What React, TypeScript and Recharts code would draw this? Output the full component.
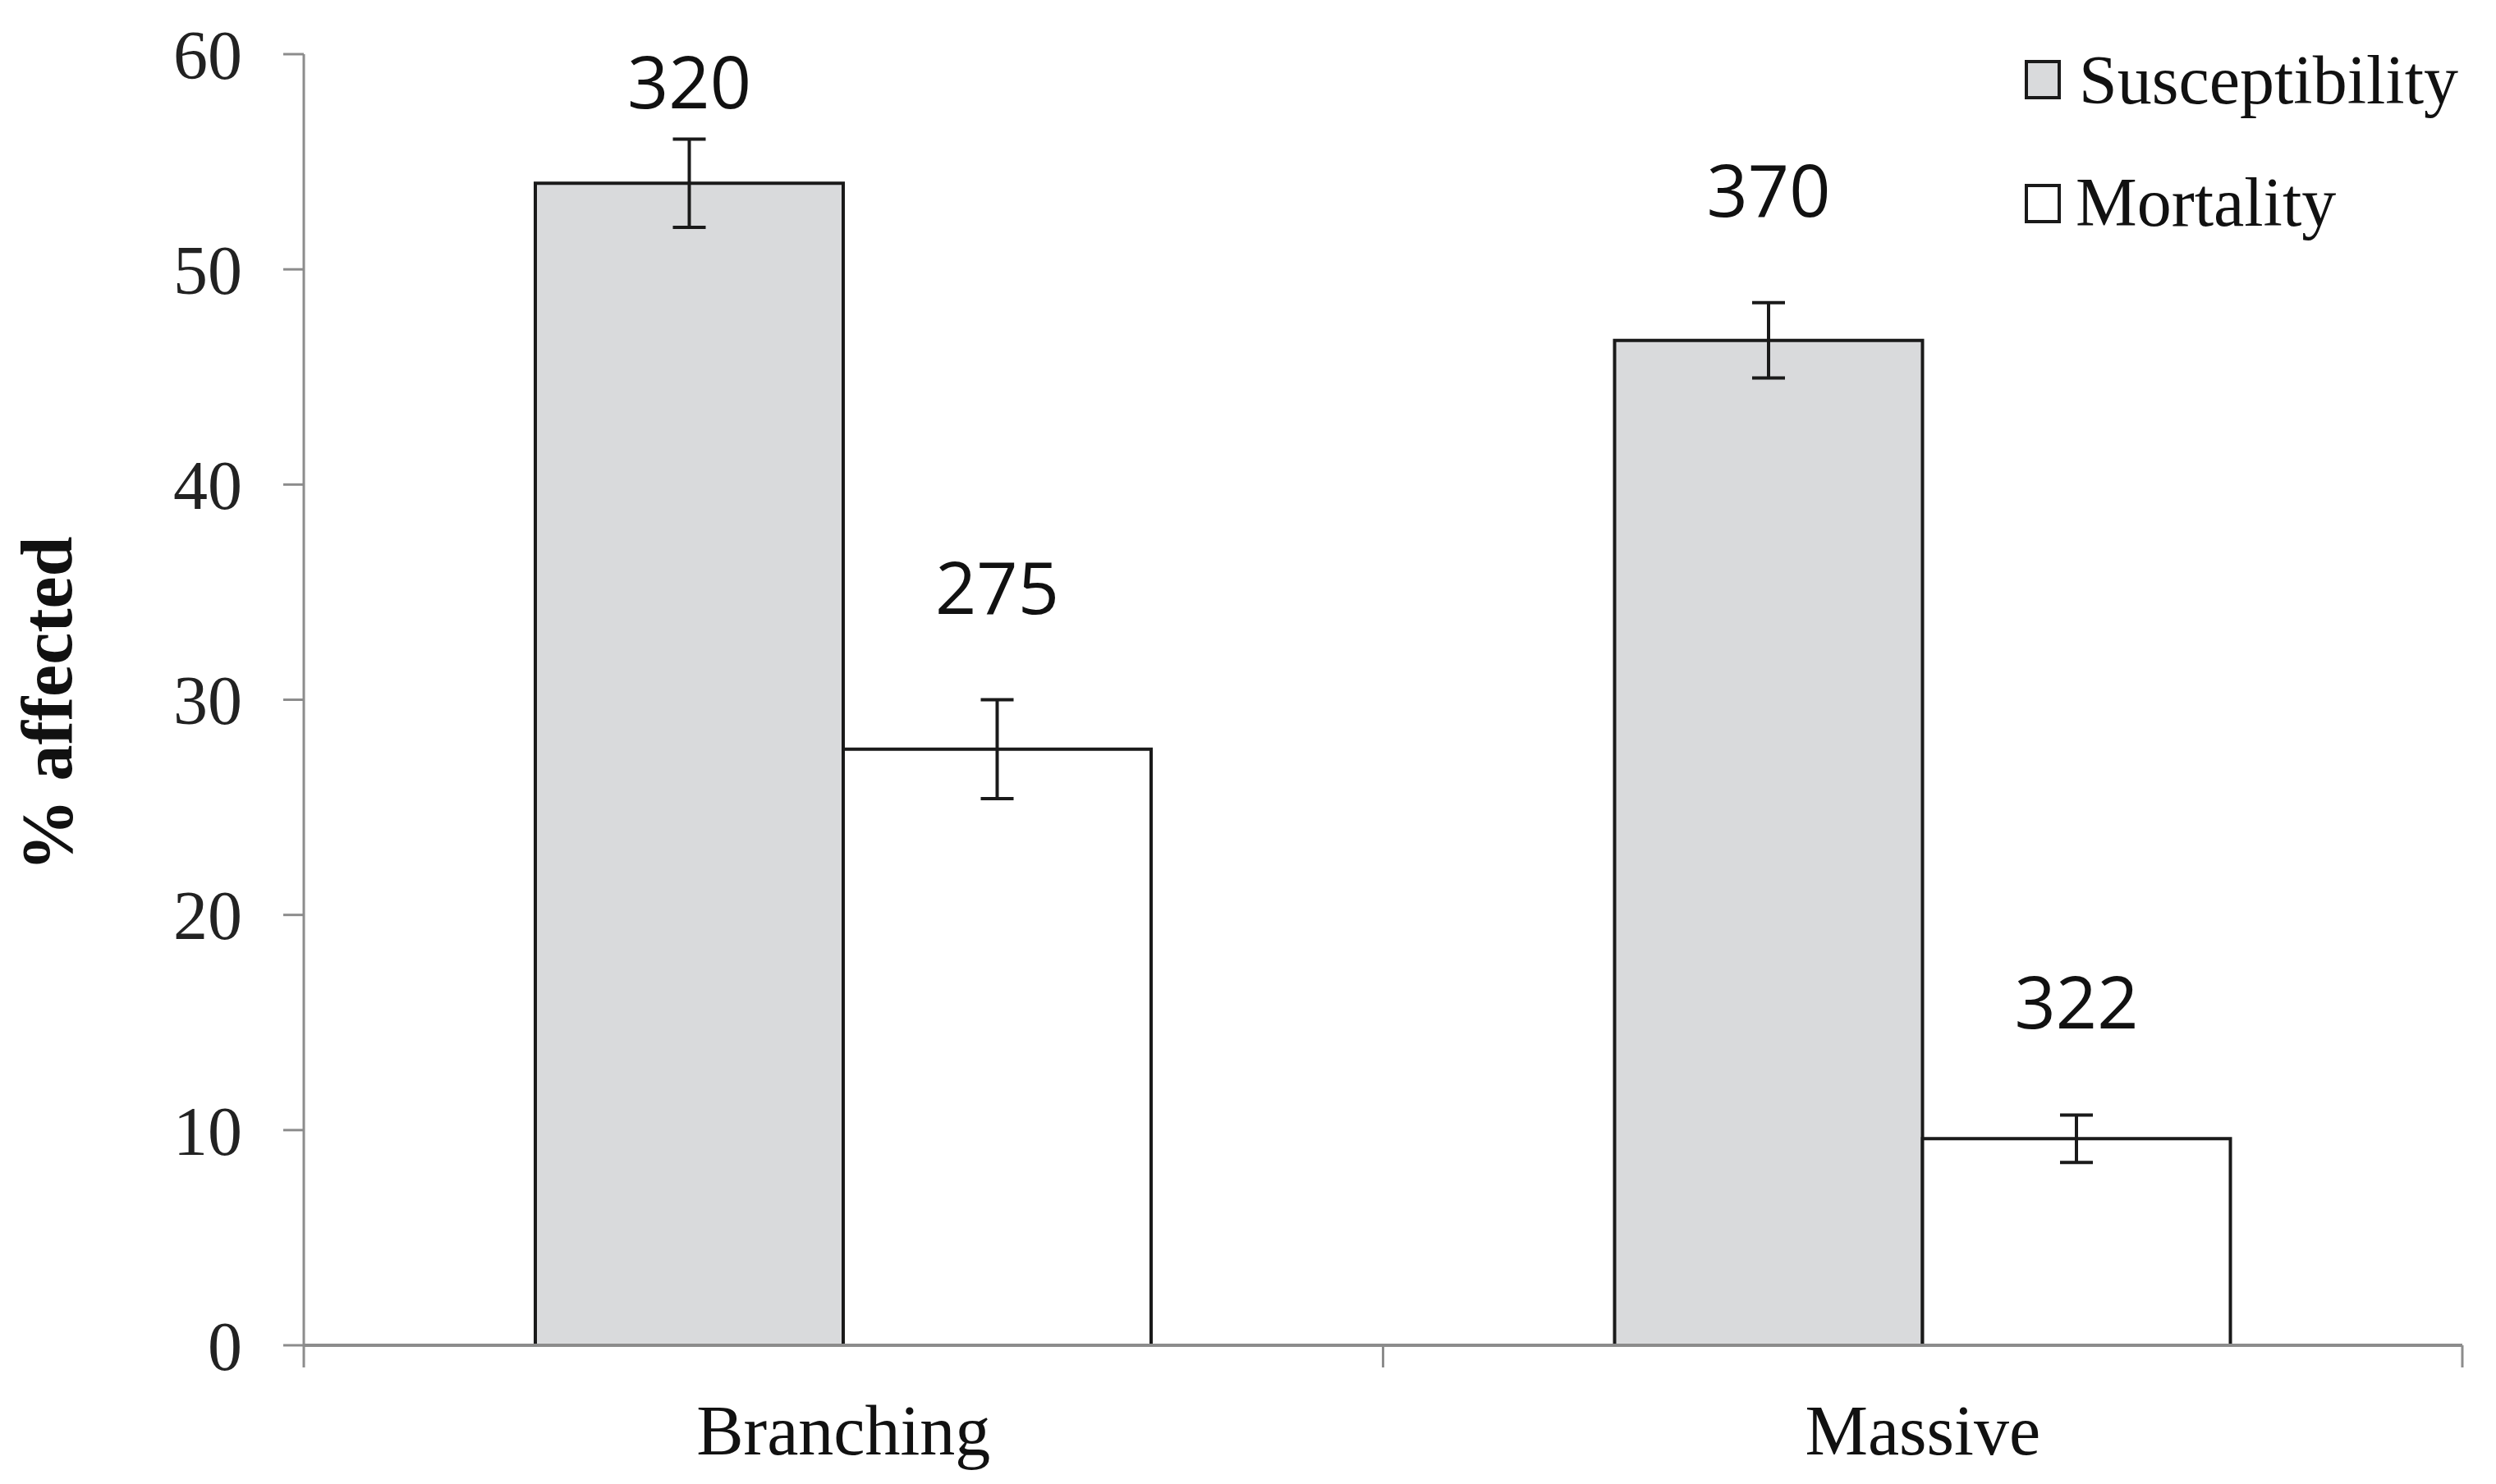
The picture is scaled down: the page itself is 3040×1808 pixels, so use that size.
import React from 'react';
import { BarChart, Bar, XAxis, YAxis, ErrorBar, LabelList, Legend } from 'recharts';

const categories = ['Branching', 'Massive'];
const susceptibility = [54.0, 46.7];
const susceptibilityErr = [2.05, 1.75];
const mortality = [27.7, 9.6];
const mortalityErr = [2.3, 1.1];
const susceptibilityN = [320, 370];
const mortalityN = [275, 322];
const yTicks = [0, 10, 20, 30, 40, 50, 60];
const seriesNames = ['Susceptibility', 'Mortality'];

const data = categories.map((c, i) => ({
  category: c,
  susc: susceptibility[i],
  suscErr: susceptibilityErr[i],
  suscN: susceptibilityN[i],
  mort: mortality[i],
  mortErr: mortalityErr[i],
  mortN: mortalityN[i],
}));

const W = 3032;
const H = 1800;
const M = { top: 58, right: 41, left: 0, bottom: 0 };
const Y_AXIS_W = 362;
const X_AXIS_H = 169;
const BAND = (W - Y_AXIS_W - M.right - M.left) / categories.length;
const LABEL_GAP = 105;
const LABEL_MIN_BASELINE = 124;

const SERIF = '"Liberation Serif", "Times New Roman", serif';
const SANS = '"Open Sans", "DejaVu Sans", sans-serif';
const AXIS_GRAY = '#8c8c8c';
const SUSC_FILL = '#d9dadc';
const INK = '#1a1a1a';

const XTick = (props: any) => {
  const { x, y, payload, index } = props;
  return (
    <g>
      <line x1={x - BAND / 2} y1={y} x2={x - BAND / 2} y2={y + 27} stroke={AXIS_GRAY} strokeWidth={3} />
      {index === categories.length - 1 && (
        <line x1={x + BAND / 2} y1={y} x2={x + BAND / 2} y2={y + 27} stroke={AXIS_GRAY} strokeWidth={3} />
      )}
      <text x={x} y={y + 133} textAnchor="middle" fontFamily={SERIF} fontSize={86} fill="#111">
        {payload.value}
      </text>
    </g>
  );
};

const makeCountLabel = (vals: number[], errs: number[], ns: number[]) => (props: any) => {
  const { x, y, width, height, index } = props;
  const v = vals[index];
  const h = Math.abs(height);
  const top = Math.min(y, y + height);
  const pxPer = v ? h / v : 0;
  const errTop = top - errs[index] * pxPer;
  const baseline = Math.max(errTop - LABEL_GAP, LABEL_MIN_BASELINE);
  return (
    <text x={x + width / 2} y={baseline} textAnchor="middle" fontFamily={SANS} fontSize={88} fill="#111">
      {ns[index]}
    </text>
  );
};

const YTitle = (props: any) => {
  const vb = props.viewBox || { x: 0, y: 0, width: 0, height: 0 };
  const cx = 79;
  const cy = vb.y + vb.height / 2 + 5;
  return (
    <text
      x={cx}
      y={cy}
      transform={`rotate(-90, ${cx}, ${cy})`}
      textAnchor="middle"
      fontFamily={SERIF}
      fontWeight="bold"
      fontSize={88}
      fill="#111"
    >
      % affected
    </text>
  );
};

const LegendBox = () => (
  <svg width={580} height={230} style={{ display: 'block', overflow: 'visible' }}>
    <rect x={2} y={7} width={40} height={44} fill={SUSC_FILL} stroke={INK} strokeWidth={4} />
    <text x={66} y={58} fontFamily={SERIF} fontSize={84} fill="#111">
      {seriesNames[0]}
    </text>
    <rect x={2} y={158} width={40} height={44} fill="#ffffff" stroke={INK} strokeWidth={4} />
    <text x={62} y={207} fontFamily={SERIF} fontSize={84} fill="#111">
      {seriesNames[1]}
    </text>
  </svg>
);

export default function App() {
  return (
    <div style={{ position: 'relative', width: W, height: H, background: '#fff' }}>
      <BarChart width={W} height={H} data={data} margin={M} barGap={0} barSize={375}>
        <XAxis
          dataKey="category"
          height={X_AXIS_H}
          axisLine={{ stroke: AXIS_GRAY, strokeWidth: 4 }}
          tickLine={false}
          tickSize={0}
          tickMargin={0}
          tick={<XTick />}
          interval={0}
        />
        <YAxis
          width={Y_AXIS_W}
          domain={[0, 60]}
          ticks={yTicks}
          interval={0}
          axisLine={{ stroke: AXIS_GRAY, strokeWidth: 3 }}
          tickLine={{ stroke: AXIS_GRAY, strokeWidth: 3 }}
          tickSize={25}
          tickMargin={50}
          tick={{ fontFamily: SERIF, fontSize: 84, fill: '#222' }}
          label={<YTitle />}
        />
        <Legend
          layout="vertical"
          align="center"
          verticalAlign="middle"
          content={<LegendBox />}
          wrapperStyle={{ position: 'absolute', left: 2458, top: 60, width: 580, height: 230 }}
        />
        <Bar dataKey="susc" name={seriesNames[0]} fill={SUSC_FILL} stroke={INK} strokeWidth={4} isAnimationActive={false}>
          <ErrorBar dataKey="suscErr" width={20} stroke={INK} strokeWidth={4} direction="y" />
          <LabelList dataKey="suscN" content={makeCountLabel(susceptibility, susceptibilityErr, susceptibilityN)} />
        </Bar>
        <Bar dataKey="mort" name={seriesNames[1]} fill="#ffffff" stroke={INK} strokeWidth={4} isAnimationActive={false}>
          <ErrorBar dataKey="mortErr" width={20} stroke={INK} strokeWidth={4} direction="y" />
          <LabelList dataKey="mortN" content={makeCountLabel(mortality, mortalityErr, mortalityN)} />
        </Bar>
      </BarChart>
    </div>
  );
}
